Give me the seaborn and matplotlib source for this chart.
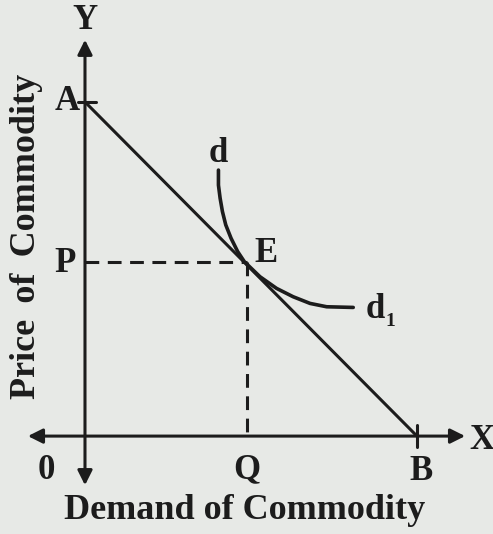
import matplotlib
matplotlib.use("Agg")
import matplotlib.pyplot as plt
import seaborn as sns
import pandas as pd

# price line A-B and the equilibrium point E (in diagram units)
line_x = [0.0, 10.0]
line_y = [10.0, 0.0]
point_e = (4.87, 5.2)

# demand curve d - d1
curve_x = [4.02, 4.02, 4.07, 4.14, 4.24, 4.40, 4.60, 4.80, 5.27, 5.77, 6.27, 6.78, 7.28, 8.08]
curve_y = [7.96, 7.51, 7.12, 6.72, 6.32, 5.92, 5.52, 5.22, 4.77, 4.42, 4.17, 3.97, 3.87, 3.85]

sns.set_theme(style="white")
plt.rcParams["font.family"] = ["Liberation Serif", "DejaVu Serif"]
plt.rcParams["font.weight"] = "bold"

ink = "#1c1c1c"
bg = "#e7e9e6"
lw = 2.2

fig = plt.figure(figsize=(4.93, 5.34), dpi=100, facecolor=bg)
ax = fig.add_axes([0, 0, 1, 1], facecolor=bg)
ax.set_xlim(-2.56, 12.29)
ax.set_ylim(-2.93, 13.05)
ax.axis("off")

# axes with arrows
ax.annotate("", xy=(11.45, 0), xytext=(-1.72, 0),
            arrowprops=dict(arrowstyle="<|-|>", color=ink, lw=lw, mutation_scale=22, shrinkA=0, shrinkB=0))
ax.annotate("", xy=(0, 11.86), xytext=(0, -1.47),
            arrowprops=dict(arrowstyle="<|-|>", color=ink, lw=lw, mutation_scale=22, shrinkA=0, shrinkB=0))

# ticks at A and B
ax.plot([-0.2, 0.33], [10, 10], color=ink, lw=lw)
ax.plot([10, 10], [-0.33, 0.33], color=ink, lw=lw)

# price line and demand curve
sns.lineplot(data=pd.DataFrame({"x": line_x, "y": line_y}), x="x", y="y",
             ax=ax, color=ink, lw=lw, sort=False, estimator=None)
sns.lineplot(data=pd.DataFrame({"x": curve_x, "y": curve_y}), x="x", y="y",
             ax=ax, color=ink, lw=lw + 0.4, sort=False, estimator=None,
             solid_joinstyle="round", solid_capstyle="round")

# dashed guides to P and Q
ex, ey = point_e
ax.plot([0, ex], [ey, ey], color=ink, lw=lw, ls=(0, (4.5, 2.8)))
ax.plot([ex, ex], [ey, 0], color=ink, lw=lw, ls=(0, (4.5, 2.8)))
ax.set_xlabel("")
ax.set_ylabel("")

fs = 25
kw = dict(color=ink, fontsize=fs, fontweight="bold", ha="center", va="center")
ax.text(0, 12.45, "Y", **kw)
ax.text(-0.55, 10.0, "A", **kw)
ax.text(4.0, 8.45, "d", **kw)
ax.text(5.45, 5.47, "E", **kw)
ax.text(-0.6, 5.15, "P", **kw)
ax.text(8.75, 3.8, "d", **kw)
ax.text(9.2, 3.42, "1", color=ink, fontsize=14, fontweight="bold", ha="center", va="center")
ax.text(-1.17, -1.02, "0", **kw)
ax.text(4.88, -1.02, "Q", **kw)
ax.text(10.12, -1.06, "B", **kw)
ax.text(11.95, -0.12, "X", **kw)
ax.text(4.82, -2.22, "Demand of Commodity", color=ink, fontsize=26, fontweight="bold", ha="center", va="center")
ax.text(-1.75, 5.98, "Price\u2009 of\u2009 Commodity", rotation=90, color=ink, fontsize=26,
        fontweight="bold", ha="center", va="center")

fig.savefig("out.png", dpi=100, facecolor=bg)
